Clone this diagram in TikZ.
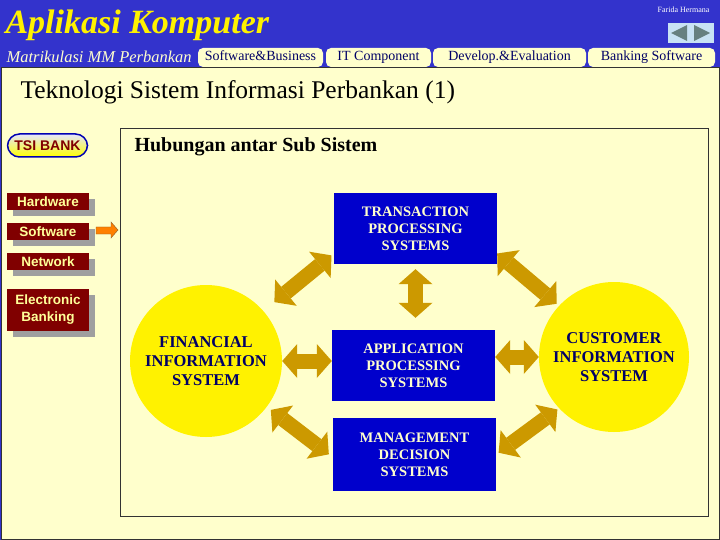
\documentclass[tikz,border=0pt]{standalone}
\usepackage{fontspec}
\setmainfont{Liberation Serif}
\setsansfont{Liberation Sans}
\usetikzlibrary{positioning,arrows.meta,calc,shadows}
\definecolor{headblue}{HTML}{3333CC}
\definecolor{paper}{HTML}{FFFFCC}
\definecolor{boxblue}{HTML}{0000CC}
\definecolor{gold}{HTML}{CC9900}
\definecolor{maroon}{HTML}{800000}
\definecolor{navy}{HTML}{000066}
\definecolor{navblue}{HTML}{C8E2F4}
\definecolor{btntext}{HTML}{FFFF99}

\begin{document}
\begin{tikzpicture}[x=1pt, y=-1pt,
    tab/.style={fill=paper, rounded corners=5pt, minimum height=19pt, inner sep=0pt,
      text height=10pt, text depth=3pt, text=navy, font=\fontsize{14}{14}\selectfont},
    menu/.style={fill=maroon, text=btntext, minimum width=82pt, minimum height=17pt,
      inner sep=0pt, align=center, font=\sffamily\bfseries\fontsize{13.5}{17}\selectfont,
      drop shadow={shadow xshift=6pt, shadow yshift=-6pt, fill=gray!75, opacity=1}},
    sysbox/.style={fill=boxblue, text=paper, minimum width=163pt, minimum height=71pt,
      inner sep=0pt, align=center, font=\bfseries\fontsize{14.5}{17}\selectfont},
    syscirc/.style={circle, fill=yellow, text=navy, inner sep=0pt, align=center,
      font=\bfseries\fontsize{16.5}{19}\selectfont},
    bigtip/.tip={Triangle[length=15pt, width=34pt, line width=0pt]},
    bigarrow/.style={draw=gold, line width=15pt, bigtip-bigtip}]
  \useasboundingbox (0,0) rectangle (720,540);

  % header band and page
  \fill[headblue] (0,0) rectangle (720,540);
  \filldraw[fill=paper, draw=gray!40!black] (1.5,67.5) rectangle (719.5,539.5);

  \node[anchor=west, text=yellow, font=\bfseries\itshape\fontsize{34}{34}\selectfont] (title) at (2,25) {Aplikasi Komputer};
  \node[anchor=west, text=paper, font=\itshape\fontsize{16.5}{16.5}\selectfont] (course) at (3,57) {Matrikulasi MM Perbankan};
  \node[anchor=east, text=white, font=\fontsize{8}{8}\selectfont] (author) at (713,10) {Farida Hermana};

  % navigation
  \node[fill=navblue, minimum width=46pt, minimum height=20pt, inner sep=0pt] (nav) at (690.5,33) {};
  \fill[gray!80!teal] (671,33) -- (687,25) -- (687,41) -- cycle;
  \fill[gray!80!teal] (710,33) -- (694,25) -- (694,41) -- cycle;

  % tabs
  \node[tab, minimum width=125pt] (tabsb) at (260.5,57.5) {Software\&Business};
  \node[tab, minimum width=105pt] (tabit) at (378.5,57.5) {IT Component};
  \node[tab, minimum width=153pt] (tabdev) at (509.5,57.5) {Develop.\&Evaluation};
  \node[tab, minimum width=127pt] (tabbank) at (651.5,57.5) {Banking Software};

  \node[anchor=west, font=\fontsize{25.5}{25.5}\selectfont] (heading) at (17,92) {Teknologi Sistem Informasi Perbankan (1)};

  % left menu
  \node[draw=blue!70!black, line width=1.5pt, rounded corners=12pt, top color=blue!10!white,
    bottom color=yellow, minimum width=80pt, minimum height=23pt, inner sep=0pt,
    text=maroon, font=\sffamily\bfseries\fontsize{14}{14}\selectfont] (tsi) at (47.5,145.5) {TSI BANK};
  \node[menu] (hw) at (48,201.5) {Hardware};
  \node[menu] (sw) at (48,231.5) {Software};
  \node[menu] (nw) at (48,261.5) {Network};
  \node[menu, minimum height=42pt] (eb) at (48,309.5) {Electronic\\Banking};

  % content frame
  \node[draw=gray!40!black, minimum width=588pt, minimum height=388pt, inner sep=0pt] (frame) at (414,322) {};
  \draw[draw=brown!70!black, fill=orange] (96,227) -- (111,227) -- (111,222) -- (118,230)
    -- (111,238) -- (111,234) -- (96,234) -- cycle;
  \node[anchor=west, font=\bfseries\fontsize{20}{20}\selectfont] (subhead) at (131,147) {Hubungan antar Sub Sistem};

  % sub systems
  \node[sysbox] (tps) at (415.5,228.5) {TRANSACTION\\PROCESSING\\SYSTEMS};
  \node[sysbox] (aps) at (413.5,365.5) {APPLICATION\\PROCESSING\\SYSTEMS};
  \node[sysbox, minimum height=73pt] (mds) at (414.5,454.5) {MANAGEMENT\\DECISION\\SYSTEMS};
  \node[syscirc, minimum size=152pt] (fis) at (206,361) {FINANCIAL\\INFORMATION\\SYSTEM};
  \node[syscirc, minimum size=150pt] (cis) at (614,357) {CUSTOMER\\INFORMATION\\SYSTEM};

  % relations
  \draw[bigarrow, shorten <=14pt, shorten >=3pt] (fis.41) -- (tps.197);
  \draw[bigarrow, shorten >=3pt] (tps.-17) -- (cis.137);
  \draw[bigarrow, shorten <=5pt, shorten >=12pt] (tps.south) -- (tps.south |- aps.north);
  \draw[bigarrow] (fis.east) -- (fis.east -| aps.west);
  \draw[bigarrow] (cis.west -| aps.east) -- (cis.west);
  \draw[bigarrow, shorten <=5pt, shorten >=5pt] (fis.-37) -- (mds.182);
  \draw[bigarrow, shorten <=3pt, shorten >=2pt] (mds.east) -- (cis.223);
\end{tikzpicture}
\end{document}
